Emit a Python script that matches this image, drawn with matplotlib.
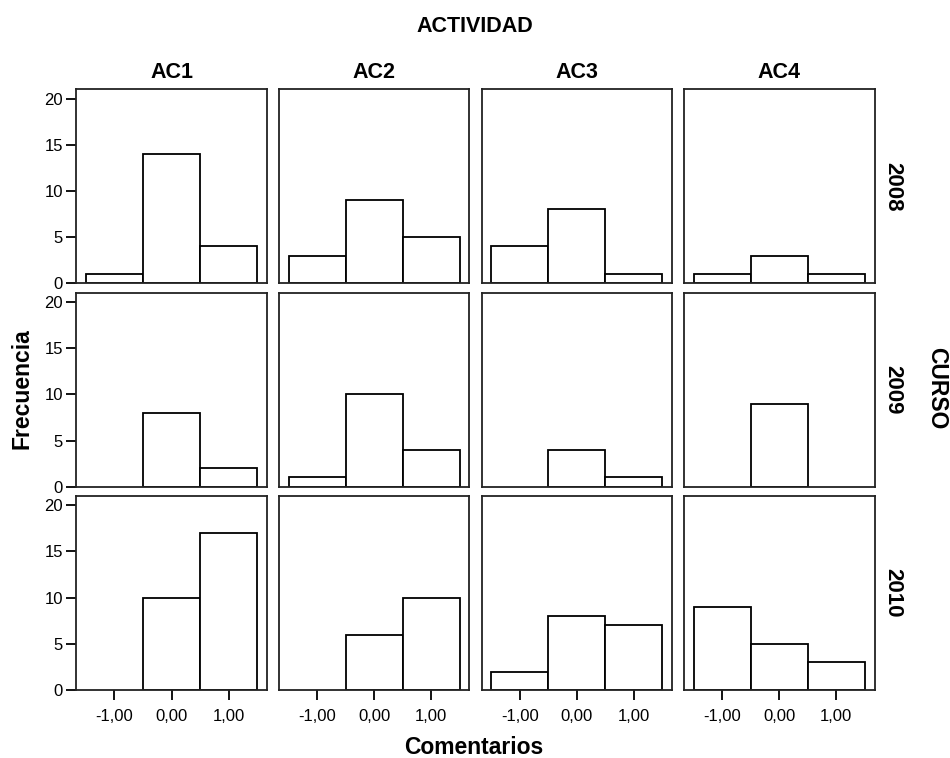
import matplotlib.pyplot as plt
import numpy as np

plt.rcParams['font.family'] = ['Liberation Sans', 'DejaVu Sans']

# --- datos ---
actividades = ['AC1', 'AC2', 'AC3', 'AC4']
cursos = ['2008', '2009', '2010']
comentarios = [-1, 0, 1]
tick_labels = ['-1,00', '0,00', '1,00']

# frecuencias por curso (filas) y actividad (columnas)
frec_2008 = [[1, 14, 4], [3, 9, 5], [4, 8, 1], [1, 3, 1]]
frec_2009 = [[0, 8, 2], [1, 10, 4], [0, 4, 1], [0, 9, 0]]
frec_2010 = [[0, 10, 17], [0, 6, 10], [2, 8, 7], [9, 5, 3]]
frecuencias = [frec_2008, frec_2009, frec_2010]

W, H = 950, 758
fig = plt.figure(figsize=(W / 100, H / 100), dpi=100, facecolor='white')

col_left = [76.3, 278.9, 481.5, 684.1]
row_top = [89.3, 292.7, 496.0]
pw, ph = 190.4, 194.0

for r, curso in enumerate(cursos):
    for c, act in enumerate(actividades):
        ax = fig.add_axes([col_left[c] / W, 1 - (row_top[r] + ph) / H, pw / W, ph / H])
        vals = frecuencias[r][c]
        for x, v in zip(comentarios, vals):
            if v > 0:
                ax.bar(x, v, width=1.0, color='white', edgecolor='black', linewidth=1.3)
        ax.set_xlim(-1.67, 1.67)
        ax.set_ylim(0, 21)
        for s in ax.spines.values():
            s.set_linewidth(1.3)
            s.set_color('#222222')
        ax.tick_params(direction='out', length=7.5, width=1.3, labelsize=12, pad=2)
        ax.set_yticks([0, 5, 10, 15, 20])
        ax.set_xticks(comentarios)
        if c == 0:
            ax.set_yticklabels(['0', '5', '10', '15', '20'])
        else:
            ax.tick_params(axis='y', left=False, labelleft=False)
        if r == len(cursos) - 1:
            ax.set_xticklabels(tick_labels)
            ax.tick_params(axis='x', pad=6)
        else:
            ax.tick_params(axis='x', bottom=False, labelbottom=False)
        if r == 0:
            ax.text(0.5, 1.0 + 17 / ph, act, transform=ax.transAxes, ha='center',
                    va='center', fontsize=15.5, fontweight='bold')
        if c == len(actividades) - 1:
            ax.text(1.0 + 18 / pw, 0.5, curso, transform=ax.transAxes, ha='center',
                    va='center', rotation=-90, fontsize=16, fontweight='bold')

fig.text(475 / W, 1 - 26 / H, 'ACTIVIDAD', ha='center', va='center',
         fontsize=15.5, fontweight='bold')
fig.text(474 / W, 1 - 748 / H, 'Comentarios', ha='center', va='center',
         fontsize=16.5, fontweight='bold')
fig.text(22 / W, 1 - 389 / H, 'Frecuencia', ha='center', va='center',
         rotation=90, fontsize=16.5, fontweight='bold')
fig.text(937 / W, 1 - 388 / H, 'CURSO', ha='center', va='center',
         rotation=-90, fontsize=16.5, fontweight='bold')

fig.savefig('out.png', dpi=100, facecolor='white')
